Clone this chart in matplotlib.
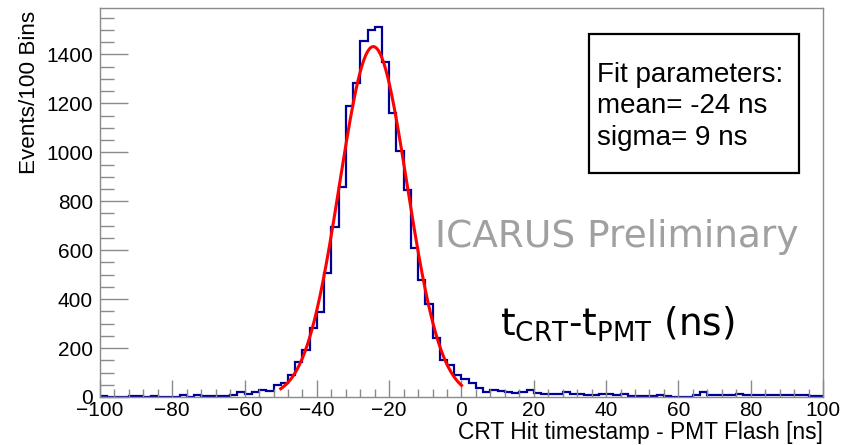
import numpy as np
import matplotlib
matplotlib.use("Agg")
from matplotlib import pyplot as plt
from matplotlib.ticker import MultipleLocator
from matplotlib.patches import Rectangle

# histogram: 100 bins of 2 ns from -100 to 100 ns
x_low, x_high, n_bins = -100, 100, 100
counts = [
    3, 0, 0, 0, 5, 4, 0, 5, 0, 2,
    0, 7, 0, 8, 4, 4, 4, 4, 7, 20,
    14, 20, 27, 25, 47, 57, 89, 143, 191, 280,
    348, 507, 696, 857, 1190, 1282, 1453, 1500, 1514, 1367,
    1160, 1007, 846, 607, 477, 382, 243, 150, 130, 89,
    73, 58, 35, 20, 28, 23, 20, 16, 20, 27,
    18, 12, 12, 14, 20, 14, 12, 10, 10, 12,
    14, 7, 12, 5, 4, 5, 4, 8, 5, 2,
    1, 2, 7, 20, 8, 10, 10, 10, 13, 10,
    10, 10, 7, 7, 7, 7, 7, 9, 5, 3,
]

# gaussian fit shown in red
fit_amp = 1432
fit_mean = -24.4
fit_sigma = 9.35
fit_range = (-50, 0)

xlabel = "CRT Hit timestamp - PMT Flash [ns]"
ylabel = "Events/100 Bins"
box_lines = ["Fit parameters:", "mean= -24 ns", "sigma= 9 ns"]

W, H = 856, 445
fig = plt.figure(figsize=(W / 100, H / 100), dpi=100)
fig.patch.set_facecolor("white")

def fx(px):
    return px / W

def fy(py):
    return 1 - py / H

ax = fig.add_axes([fx(100), fy(397), (823 - 100) / W, (397 - 8) / H])

edges = np.linspace(x_low, x_high, n_bins + 1)
ax.stairs(counts, edges, color="#000099", lw=1.6)

xf = np.linspace(fit_range[0], fit_range[1], 300)
yf = fit_amp * np.exp(-0.5 * ((xf - fit_mean) / fit_sigma) ** 2)
ax.plot(xf, yf, color="#ff0000", lw=2.2)

ax.set_xlim(x_low, x_high)
ax.set_ylim(0, 1.05 * max(counts))

grey = "#8a8a8a"
for s in ax.spines.values():
    s.set_color(grey)
    s.set_linewidth(1.0)

ax.xaxis.set_major_locator(MultipleLocator(20))
ax.xaxis.set_minor_locator(MultipleLocator(4))
ax.yaxis.set_major_locator(MultipleLocator(200))
ax.yaxis.set_minor_locator(MultipleLocator(50))
ax.tick_params(axis="x", which="major", direction="in", length=12, width=1, color=grey, pad=3)
ax.tick_params(axis="x", which="minor", direction="in", length=6, width=1, color=grey)
ax.tick_params(axis="y", which="major", direction="in", length=20, width=1, color=grey, pad=5)
ax.tick_params(axis="y", which="minor", direction="in", length=10, width=1, color=grey)
for lab in ax.get_xticklabels() + ax.get_yticklabels():
    lab.set_fontfamily("Liberation Sans")
    lab.set_fontsize(15)

# ROOT style axis titles
fig.text(fx(30), fy(11), ylabel, rotation=90, ha="center", va="top",
         family="Liberation Sans", fontsize=16.2)
fig.text(fx(823), fy(432), xlabel, ha="right", va="center",
         family="Liberation Sans", fontsize=16.4)

# fit parameter box
fig.patches.append(Rectangle((fx(589), fy(173)), (799 - 589) / W, (173 - 34) / H,
                             transform=fig.transFigure, fill=False,
                             edgecolor="black", lw=1.6))
for i, line in enumerate(box_lines):
    fig.text(fx(597), fy(82 + 31.5 * i), line, ha="left", va="baseline",
             family="Liberation Sans", fontsize=20)

fig.text(fx(435), fy(247), "ICARUS Preliminary", ha="left", va="baseline",
         family="DejaVu Sans", fontsize=27, color="#a0a0a0")

plt.rcParams["mathtext.fontset"] = "dejavusans"
fig.text(fx(500), fy(335), r"$\mathregular{t_{CRT}}$-$\mathregular{t_{PMT}}$ (ns)",
         ha="left", va="baseline", family="DejaVu Sans", fontsize=26.8, color="black")

fig.savefig("out.png", dpi=100, facecolor="white")
